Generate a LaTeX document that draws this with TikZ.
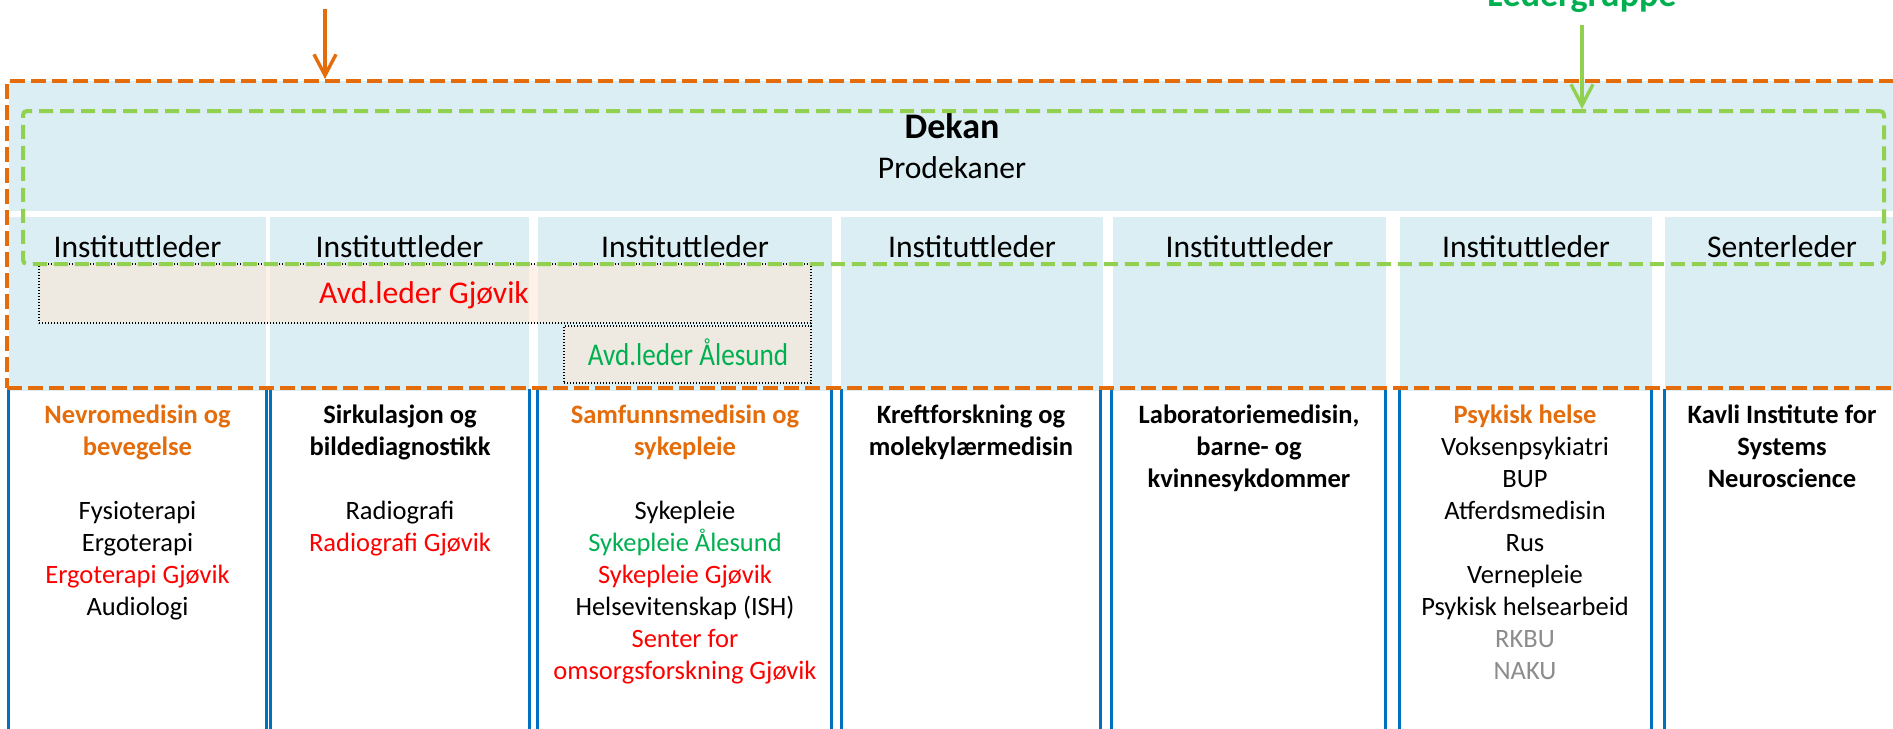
\documentclass[tikz,border=0pt]{standalone}
\usepackage{fontspec}
\setmainfont{Carlito}
\usetikzlibrary{arrows.meta,fit}
\definecolor{bandblue}{HTML}{DAEEF3}
\definecolor{lineblue}{HTML}{0070C0}
\definecolor{orng}{HTML}{E46C0A}
\definecolor{lgreen}{HTML}{92D050}
\definecolor{dgreen}{HTML}{00B050}
\definecolor{avdfill}{RGB}{252,232,216}
\definecolor{txtgray}{HTML}{8C8C8C}
\definecolor{txtred}{HTML}{FF0000}
\begin{document}
\begin{tikzpicture}[x=0.5pt,y=-0.5pt,
  bandbox/.style={fit={#1}, inner sep=0pt, fill=bandblue, draw=none},
  colbox/.style={fit={#1}, inner sep=0pt, draw=none},
  blueline/.style={draw=lineblue, line width=1.6pt},
  avdbox/.style={fit={#1}, inner sep=0pt, fill=avdfill, fill opacity=0.6, draw=black, line width=0.7pt, dash pattern=on 0.7pt off 0.8pt},
  orangebox/.style={fit={#1}, inner sep=0pt, draw=orng, line width=2pt, dash pattern=on 7.5pt off 3pt},
  greenbox/.style={fit={#1}, inner sep=0pt, draw=lgreen, line width=2pt, dash pattern=on 7pt off 3.5pt, rounded corners=2pt},
  bigtext/.style={anchor=base, inner sep=0pt, font=\fontsize{15.8}{19}\selectfont},
  coltext/.style={anchor=base, inner sep=0pt, align=center, font=\fontsize{13.25}{16}\selectfont},
  arr/.style={line width=1.7pt, -{Straight Barb[length=10.5pt,width=11pt]}}
]
\useasboundingbox (0,0) rectangle (1893,728);
\clip (0,0) rectangle (1893,728);

% top band and institute boxes
\node[bandbox={(9,81) (1905,211)}] (band) {};
\node[bandbox={(9,217) (266,391)}] (c1) {};
\node[bandbox={(270,217) (529,391)}] (c2) {};
\node[bandbox={(538,217) (832,391)}] (c3) {};
\node[bandbox={(841,217) (1103,391)}] (c4) {};
\node[bandbox={(1113,217) (1386,391)}] (c5) {};
\node[bandbox={(1400,217) (1652,391)}] (c6) {};
\node[bandbox={(1665,217) (1905,391)}] (c7) {};

% lower columns (blue side lines only)
\node[colbox={(9,389) (266,760)}] (b1) {};
\node[colbox={(271,389) (529,760)}] (b2) {};
\node[colbox={(538,389) (831,760)}] (b3) {};
\node[colbox={(842,389) (1100,760)}] (b4) {};
\node[colbox={(1112,389) (1385,760)}] (b5) {};
\node[colbox={(1400,389) (1651,760)}] (b6) {};
\node[colbox={(1665,389) (1915,760)}] (b7) {};
\foreach \b in {b1,b2,b3,b4,b5,b6}{
  \draw[blueline] (\b.north west) -- (\b.south west);
  \draw[blueline] (\b.north east) -- (\b.south east);
}
\draw[blueline] (b7.north west) -- (b7.south west);

% Avd.leder boxes
\node[avdbox={(39,264) (811,323)}] (gjovik) {};
\node[avdbox={(564,326) (811,383)}] (alesund) {};

% texts top
\node[anchor=base, inner sep=0pt, font=\fontsize{18}{22}\selectfont\bfseries] (dekan) at (952,138) {Dekan};
\node[bigtext] (prodekan) at (952,178) {Prodekaner};
\node[bigtext] (l1) at (137.5,257) {Instituttleder};
\node[bigtext] (l2) at (399.5,257) {Instituttleder};
\node[bigtext] (l3) at (685,257) {Instituttleder};
\node[bigtext] (l4) at (972,257) {Instituttleder};
\node[bigtext] (l5) at (1249.5,257) {Instituttleder};
\node[bigtext] (l6) at (1526,257) {Instituttleder};
\node[bigtext] (l7) at (1782,257) {Senterleder};
\node[bigtext, text=txtred] (tgjovik) at (424,303) {Avd.leder Gjøvik};
\node[bigtext, text=dgreen] (talesund) at (688,365) {\scalebox{0.86}[1]{Avd.leder Ålesund}};

% column texts (anchored at the baseline of their last line)
\node[coltext] (t1) at (137.5,615) {\textcolor{orng}{\bfseries Nevromedisin og}\\ \textcolor{orng}{\bfseries bevegelse}\\[16pt]
  Fysioterapi\\ Ergoterapi\\ \textcolor{txtred}{Ergoterapi Gjøvik}\\ Audiologi};
\node[coltext] (t2) at (400,551) {\bfseries Sirkulasjon og\\ \bfseries bildediagnostikk\\[16pt]
  Radiografi\\ \textcolor{txtred}{Radiografi Gjøvik}};
\node[coltext] (t3) at (685,679) {\textcolor{orng}{\bfseries Samfunnsmedisin og}\\ \textcolor{orng}{\bfseries sykepleie}\\[16pt]
  Sykepleie\\ \textcolor{dgreen}{Sykepleie Ålesund}\\ \textcolor{txtred}{Sykepleie Gjøvik}\\ Helsevitenskap (ISH)\\
  \textcolor{txtred}{Senter for}\\ \textcolor{txtred}{omsorgsforskning Gjøvik}};
\node[coltext] (t4) at (971,455) {\bfseries Kreftforskning og\\ \bfseries molekylærmedisin};
\node[coltext] (t5) at (1249,487) {\bfseries Laboratoriemedisin,\\ \bfseries barne- og\\ \bfseries kvinnesykdommer};
\node[coltext] (t6) at (1525,679) {\textcolor{orng}{\bfseries Psykisk helse}\\ Voksenpsykiatri\\ BUP\\ Atferdsmedisin\\ Rus\\
  Vernepleie\\ Psykisk helsearbeid\\ \textcolor{txtgray}{RKBU}\\ \textcolor{txtgray}{NAKU}};
\node[coltext] (t7) at (1782,487) {\bfseries Kavli Institute for\\ \bfseries Systems\\ \bfseries Neuroscience};

% group frames
\node[orangebox={(7,81) (1910,388)}] (ledelse) {};
\node[greenbox={(23,111) (1884,264)}] (ledergruppe) {};

% labels and arrows
\node[anchor=base, inner sep=0pt, text=dgreen, font=\fontsize{18}{22}\selectfont\bfseries] (lglabel) at (1582,6) {Ledergruppe};
\coordinate (oarrow) at (325,9);
\coordinate (garrow) at (1582,25);
\draw[arr, orng] (oarrow) -- (oarrow |- ledelse.north);
\draw[arr, lgreen] (garrow) -- (garrow |- ledergruppe.north);
\end{tikzpicture}
\end{document}
